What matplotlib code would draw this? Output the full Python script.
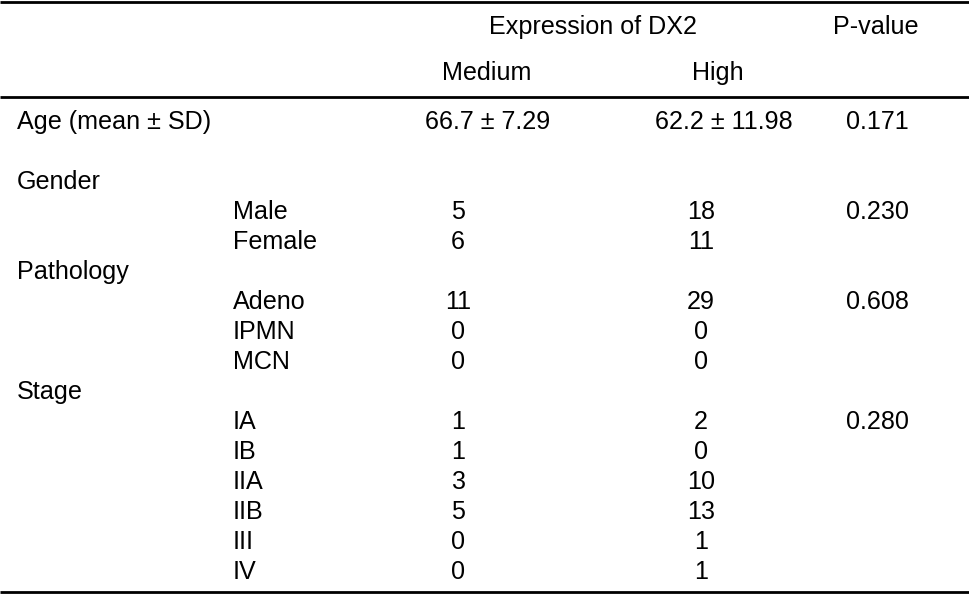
import matplotlib.pyplot as plt

plt.rcParams["font.family"] = ["Liberation Sans", "DejaVu Sans"]

# table content
age_label = "Age (mean ± SD)"
age_medium = "66.7 ± 7.29"
age_high = "62.2 ± 11.98"
age_p = "0.171"

groups = ["Gender", "Pathology", "Stage"]
group_items = [
    ["Male", "Female"],
    ["Adeno", "IPMN", "MCN"],
    ["IA", "IB", "IIA", "IIB", "III", "IV"],
]
medium = [
    [5, 6],
    [11, 0, 0],
    [1, 1, 3, 5, 0, 0],
]
high = [
    [18, 11],
    [29, 0, 0],
    [2, 0, 10, 13, 1, 1],
]
pvalues = ["0.230", "0.608", "0.280"]

W, H = 970, 598
fig = plt.figure(figsize=(W / 100, H / 100), dpi=100)
ax = fig.add_axes([0, 0, 1, 1])
ax.set_xlim(0, W)
ax.set_ylim(H, 0)
ax.axis("off")

fs = 18.1
row_h = 30
y0 = 120
off = 8.8  # baseline below row centre

x_label, x_sub = 17, 233
x_med, x_high, x_p = 458, 701, 877


def put(x, y, s, ha="center"):
    ax.text(x, y + off, s, fontsize=fs, ha=ha, va="baseline", color="black")


# rules
for y in (1.5, 96.5, 591.5):
    ax.plot([0, W], [y, y], color="black", lw=2.0, solid_capstyle="butt")

# header
put(593, 25, "Expression of DX2")
put(876, 25, "P-value")
put(487, 71, "Medium")
put(718, 71, "High")

# age row
put(x_label, y0, age_label, ha="left")
put(488, y0, age_medium)
put(724, y0, age_high)
put(x_p, y0, age_p)

row = 2
for g, items, med, hi, p in zip(groups, group_items, medium, high, pvalues):
    put(x_label, y0 + row * row_h, g, ha="left")
    row += 1
    for i, (name, m, h) in enumerate(zip(items, med, hi)):
        y = y0 + row * row_h
        put(x_sub, y, name, ha="left")
        put(x_med, y, str(m))
        put(x_high, y, str(h))
        if i == 0:
            put(x_p, y, p)
        row += 1

fig.savefig("out.png", dpi=100, facecolor="white")
